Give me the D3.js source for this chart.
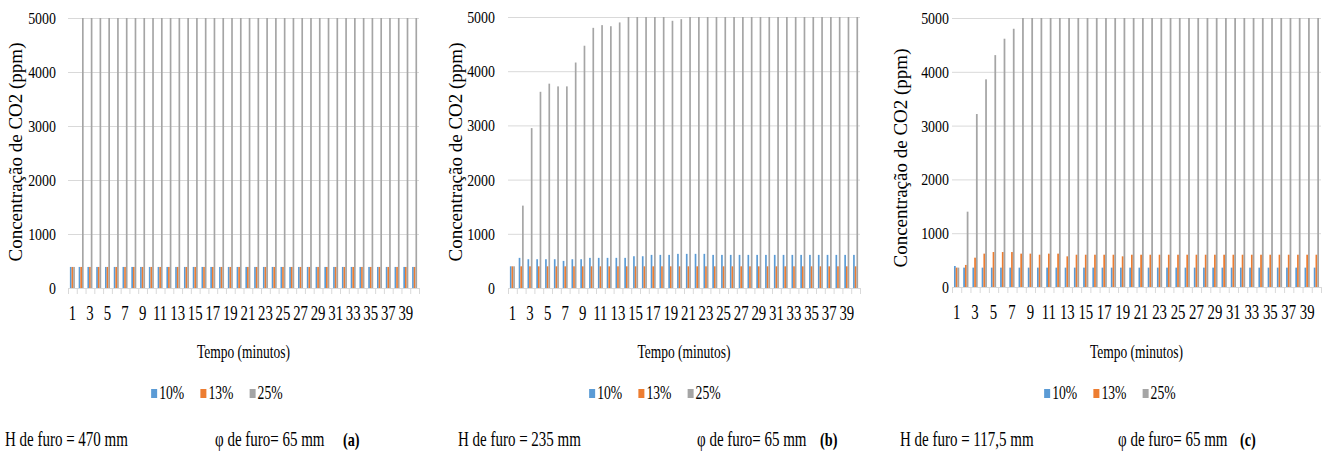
<!DOCTYPE html>
<html>
<head>
<meta charset="utf-8">
<script src="https://cdn.jsdelivr.net/npm/d3@7/dist/d3.min.js"></script>
<style>
  body { margin: 0; background: #fff; }
  svg text { font-family: 'Liberation Serif', 'DejaVu Serif', serif; fill: #000; }
</style>
</head>
<body>
<div id="chart"></div>
<script>
// categories (minutes) and axis labels
var minutes = [1,2,3,4,5,6,7,8,9,10,11,12,13,14,15,16,17,18,19,20,
               21,22,23,24,25,26,27,28,29,30,31,32,33,34,35,36,37,38,39,40];
var tickLabels = [1,3,5,7,9,11,13,15,17,19,21,23,25,27,29,31,33,35,37,39];
var yTicks = [0,1000,2000,3000,4000,5000];
var series = ["10%","13%","25%"];
var colors = ["#5B9BD5","#ED7D31","#A5A5A5"];

// (a) H = 470 mm
var a10 = [390,390,390,390,390,390,390,390,390,390,390,390,390,390,390,390,390,390,390,390,
           390,390,390,390,390,390,390,390,390,390,390,390,390,390,390,390,390,390,390,390];
var a13 = [390,390,390,390,390,390,390,390,390,390,390,390,390,390,390,390,390,390,390,390,
           390,390,390,390,390,390,390,390,390,390,390,390,390,390,390,390,390,390,390,390];
var a25 = [390,5000,5000,5000,5000,5000,5000,5000,5000,5000,5000,5000,5000,5000,5000,5000,5000,5000,5000,5000,
           5000,5000,5000,5000,5000,5000,5000,5000,5000,5000,5000,5000,5000,5000,5000,5000,5000,5000,5000,5000];

// (b) H = 235 mm
var b10 = [400,556,531,531,531,531,500,531,531,556,556,556,556,556,586,586,611,611,611,630,
           630,630,630,611,611,611,611,611,611,611,611,611,611,611,611,611,611,611,611,611];
var b13 = [400,400,400,400,400,400,400,400,400,400,400,400,400,400,400,400,400,400,400,400,
           400,400,400,400,400,400,400,400,400,400,400,400,400,400,400,400,400,400,400,400];
var b25 = [400,1520,2950,3620,3770,3720,3720,4160,4470,4800,4850,4830,4900,5000,5000,5000,5000,5000,4930,4960,
           5000,5000,5000,5000,5000,5000,5000,5000,5000,5000,5000,5000,5000,5000,5000,5000,5000,5000,5000,5000];

// (c) H = 117,5 mm
var c10 = [390,360,360,360,360,360,360,360,360,360,360,360,360,360,360,360,360,360,360,360,
           360,360,360,360,360,360,360,360,360,360,360,360,360,360,360,360,360,360,360,360];
var c13 = [360,410,545,620,650,650,650,620,620,600,620,620,570,600,600,600,600,600,570,600,
           600,600,600,600,600,600,600,600,600,600,600,600,600,600,600,600,600,600,600,600];
var c25 = [360,1400,3215,3860,4310,4615,4800,5000,5000,5000,5000,5000,5000,5000,5000,5000,5000,5000,5000,5000,
           5000,5000,5000,5000,5000,5000,5000,5000,5000,5000,5000,5000,5000,5000,5000,5000,5000,5000,5000,5000];

var holeDepth = ["H de furo = 470 mm", "H de furo = 235 mm", "H de furo = 117,5 mm"];
var holeDiam = ["\u03C6 de furo= 65 mm", "\u03C6 de furo= 65 mm", "\u03C6 de furo= 65 mm"];
var panelTags = ["(a)", "(b)", "(c)"];
var yTitle = "Concentra\u00E7\u00E3o de CO2 (ppm)";
var xTitle = "Tempo (minutos)";

// layout of the three panels
var layout = [
  {left: 68,  right: 419,  top: 18, bottom: 288, yLab: 12, titleX: 22,  titleY: 152, legX: 217,  hX: 5,   phiX: 215,  tagX: 343},
  {left: 508, right: 860,  top: 17, bottom: 288, yLab: 13, titleX: 462, titleY: 152, legX: 655,  hX: 458, phiX: 697,  tagX: 820},
  {left: 952, right: 1321, top: 18, bottom: 287, yLab: 3,  titleX: 907, titleY: 158, legX: 1110, hX: 900, phiX: 1118, tagX: 1240}
];
var panelData = [[a10, a13, a25], [b10, b13, b25], [c10, c13, c25]];
var serif = "'Liberation Serif', 'DejaVu Serif', serif";

var svg = d3.select("#chart").append("svg")
  .attr("width", 1331)
  .attr("height", 454)
  .attr("font-family", serif);

function squishText(sel, x, y, sx){
  sel.attr("transform", "translate(" + x + "," + y + ") scale(" + sx + ",1)");
}

function drawPanel(i){
  var L = layout[i];
  var vals = panelData[i];
  var g = svg.append("g");

  var y = d3.scaleLinear().domain([0, 5000]).range([L.bottom, L.top]);
  var x0 = d3.scaleBand().domain(minutes).range([L.left, L.right])
    .paddingInner(0.43).paddingOuter(0.215);
  var x1 = d3.scaleBand().domain(series).range([0, x0.bandwidth()]);
  var xEdge = d3.scaleLinear().domain([0, minutes.length]).range([L.left, L.right]);

  // gridlines
  var grid = g.append("g")
    .attr("transform", "translate(" + L.left + ",0)")
    .call(d3.axisLeft(y).tickValues(yTicks).tickSize(-(L.right - L.left)).tickFormat(""));
  grid.select(".domain").remove();
  grid.selectAll("line").attr("stroke", "#D9D9D9");

  // y tick labels
  var yAx = g.append("g")
    .attr("transform", "translate(" + L.left + ",0)")
    .call(d3.axisLeft(y).tickValues(yTicks).tickSize(0).tickFormat(d3.format("d")));
  yAx.attr("font-family", serif);
  yAx.select(".domain").remove();
  yAx.selectAll("text")
    .attr("font-size", 17)
    .attr("x", -L.yLab / 0.82)
    .attr("transform", "scale(0.82,1)");

  // bars
  var rows = [];
  minutes.forEach(function(m, k){
    series.forEach(function(s, j){
      rows.push({m: m, s: s, v: vals[j][k], c: colors[j]});
    });
  });
  g.selectAll("rect.bar").data(rows).enter().append("rect")
    .attr("class", "bar")
    .attr("x", function(d){ return x0(d.m) + x1(d.s); })
    .attr("width", x1.bandwidth())
    .attr("y", function(d){ return y(d.v); })
    .attr("height", function(d){ return y(0) - y(d.v); })
    .attr("fill", function(d){ return d.c; });

  // x axis line with ticks at category edges
  var xAx = g.append("g")
    .attr("transform", "translate(0," + L.bottom + ")")
    .call(d3.axisBottom(xEdge).tickValues(d3.range(0, minutes.length + 1)).tickSize(6).tickFormat(""));
  xAx.select(".domain").attr("stroke", "#D9D9D9").attr("d", "M" + L.left + ",0.5H" + L.right);
  xAx.selectAll("line").attr("stroke", "#D9D9D9");

  // x tick labels (every other minute)
  var xLab = g.append("g")
    .attr("transform", "translate(0," + L.bottom + ")")
    .call(d3.axisBottom(x0).tickValues(tickLabels).tickSize(0).tickPadding(18));
  xLab.attr("font-family", serif);
  xLab.select(".domain").remove();
  xLab.selectAll("text")
    .attr("font-size", 20)
    .attr("transform", "scale(0.74,1)");

  // axis titles
  g.append("text")
    .attr("transform", "translate(" + L.titleX + "," + L.titleY + ") rotate(-90)")
    .attr("text-anchor", "middle")
    .attr("font-size", 19)
    .text(yTitle);

  g.append("text")
    .attr("text-anchor", "middle")
    .attr("font-size", 18)
    .text(xTitle)
    .call(squishText, (L.left + L.right) / 2, 358, 0.75);

  // legend
  var leg = g.append("g");
  var items = leg.selectAll("g").data(series).enter().append("g");
  items.append("rect")
    .attr("width", 6).attr("height", 9)
    .attr("y", -10)
    .attr("fill", function(d, j){ return colors[j]; });
  items.append("text")
    .attr("font-size", 19)
    .text(function(d){ return d; })
    .call(squishText, 8, 0, 0.72);
  var pos = 0;
  items.each(function(){
    var w = this.getBBox().width;
    d3.select(this).attr("transform", "translate(" + pos + ",0)");
    pos += w + 16;
  });
  pos -= 16;
  leg.attr("transform", "translate(" + (L.legX - pos / 2) + ",399)");

  // captions
  g.append("text").attr("font-size", 20).text(holeDepth[i])
    .call(squishText, L.hX, 446, 0.75);
  g.append("text").attr("font-size", 20).text(holeDiam[i])
    .call(squishText, L.phiX, 446, 0.75);
  g.append("text").attr("font-size", 19).attr("font-weight", "bold").text(panelTags[i])
    .call(squishText, L.tagX, 446, 0.75);
}

drawPanel(0);
drawPanel(1);
drawPanel(2);
</script>
</body>
</html>
